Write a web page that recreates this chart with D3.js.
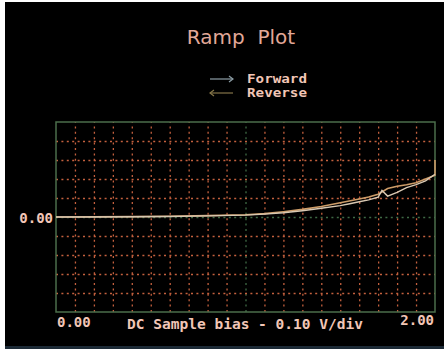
<!DOCTYPE html>
<html><head><meta charset="utf-8">
<script src="https://cdn.jsdelivr.net/npm/d3@7"></script>
<style>
html,body{margin:0;padding:0;background:#fff;}
svg{display:block;}
</style></head>
<body>
<svg id="c" width="444" height="349"></svg>
<script>
// ---- data ----
const title = "Ramp  Plot";
const xLabel = "DC Sample bias - 0.10 V/div";
const seriesNames = ["Forward", "Reverse"];
const xTickLabels = ["0.00", "2.00"];
const yTickLabels = ["0.00"];
const xDomain = [0, 2];
const yDomain = [-5, 5];       // in divisions
const gridStep = 0.1;          // V/div
const yGridStep = 1;
// Forward sweep: [bias V, signal div]
const forwardX = [0, 0.2, 0.4, 0.6, 0.8, 1.0, 1.1, 1.2, 1.3, 1.4, 1.5, 1.55, 1.6, 1.65, 1.7, 1.72, 1.75, 1.8, 1.85, 1.9, 1.95, 2.0];
const forwardY = [0, 0, 0.01, 0.03, 0.06, 0.1, 0.15, 0.22, 0.33, 0.46, 0.6, 0.7, 0.8, 0.9, 1.05, 1.4, 1.1, 1.3, 1.55, 1.7, 1.9, 2.25];
// Reverse sweep
const reverseX = [2.0, 2.0, 1.95, 1.9, 1.85, 1.8, 1.75, 1.7, 1.65, 1.6, 1.5, 1.4, 1.3, 1.2, 1.1, 1.0, 0.8, 0.6, 0.4, 0.2, 0];
const reverseY = [3.0, 2.2, 2.0, 1.8, 1.7, 1.62, 1.5, 1.2, 1.05, 0.95, 0.75, 0.55, 0.4, 0.28, 0.18, 0.12, 0.07, 0.04, 0.02, 0.01, 0];

// ---- drawing ----
const svg = d3.select("#c");
const W = 444, H = 349;
const L = 56, R = 435, T = 122, B = 312;
const textCol = "#f2c6b6";
const mono = "'DejaVu Sans Mono', 'Liberation Mono', monospace";

svg.append("rect").attr("x", 5).attr("y", 2).attr("width", W - 5).attr("height", H - 2).attr("fill", "#000");
svg.append("rect").attr("x", 5).attr("y", 346).attr("width", W - 5).attr("height", 3).attr("fill", "#1c2a36");

const x = d3.scaleLinear().domain(xDomain).range([L, R]);
const y = d3.scaleLinear().domain(yDomain).range([B, T]);

const xGridVals = d3.range(1, 20).map(i => +(i * gridStep).toFixed(2));
const yGridVals = d3.range(-4, 5).map(i => i * yGridStep);

// vertical grid
const gx = svg.append("g").attr("transform", `translate(0,${B})`)
  .call(d3.axisBottom(x).tickValues(xGridVals).tickSize(-(B - T)).tickFormat(""));
gx.select(".domain").remove();
gx.selectAll(".tick line")
  .attr("stroke", d => Math.abs(d - 1) < 1e-9 ? "#3f6a45" : "#c4603e")
  .attr("stroke-width", 1.3)
  .attr("stroke-dasharray", "2,3.4");

// horizontal grid
const gy = svg.append("g").attr("transform", `translate(${L},0)`)
  .call(d3.axisLeft(y).tickValues(yGridVals).tickSize(-(R - L)).tickFormat(""));
gy.select(".domain").remove();
gy.selectAll(".tick line")
  .attr("stroke", d => d === 0 ? "#3f6a45" : "#c4603e")
  .attr("stroke-width", 1.3)
  .attr("stroke-dasharray", "2,3.4");

// frame
svg.append("rect").attr("x", x(xDomain[0])).attr("y", y(yDomain[1]))
  .attr("width", x(xDomain[1]) - x(xDomain[0])).attr("height", y(yDomain[0]) - y(yDomain[1]))
  .attr("fill", "none").attr("stroke", "#4b6e4b").attr("stroke-width", 1.5);

// curves
const line = d3.line().x(d => x(d[0])).y(d => y(d[1]));
const fwd = forwardX.map((v, i) => [v, forwardY[i]]);
const rev = reverseX.map((v, i) => [v, reverseY[i]]);
svg.append("path").datum(rev).attr("d", line).attr("fill", "none")
  .attr("stroke", "#cc9c68").attr("stroke-width", 1.6);
svg.append("path").datum(fwd).attr("d", line).attr("fill", "none")
  .attr("stroke", "#d8c8b2").attr("stroke-width", 1.4);

// tick labels
svg.append("text").attr("x", x(xDomain[0]) + 1).attr("y", 327).attr("text-anchor", "start")
  .attr("font-family", mono).attr("font-weight", "bold").attr("font-size", 14).attr("fill", textCol)
  .text(xTickLabels[0]);
svg.append("text").attr("x", x(xDomain[1]) - 1).attr("y", 325).attr("text-anchor", "end")
  .attr("font-family", mono).attr("font-weight", "bold").attr("font-size", 14).attr("fill", textCol)
  .text(xTickLabels[1]);
svg.append("text").attr("x", L - 3).attr("y", y(0) + 5.5).attr("text-anchor", "end")
  .attr("font-family", mono).attr("font-weight", "bold").attr("font-size", 14).attr("fill", textCol)
  .text(yTickLabels[0]);

// axis title
svg.append("text").attr("x", 245).attr("y", 329).attr("text-anchor", "middle")
  .attr("font-family", mono).attr("font-weight", "bold").attr("font-size", 14).attr("fill", textCol)
  .attr("textLength", 236).attr("lengthAdjust", "spacingAndGlyphs")
  .text(xLabel);

// title
svg.append("text").attr("x", 241).attr("y", 44).attr("text-anchor", "middle")
  .attr("font-family", "'DejaVu Sans', sans-serif").attr("font-size", 20).attr("fill", "#e2a898")
  .attr("xml:space", "preserve").style("white-space", "pre")
  .text(title);

// legend
const legCols = ["#8d9ea6", "#857548"];
const legY = [79, 93];
seriesNames.forEach((n, i) => {
  const g = svg.append("g");
  const x0 = 210, x1 = 233, yy = legY[i];
  g.append("line").attr("x1", x0).attr("x2", x1).attr("y1", yy).attr("y2", yy)
    .attr("stroke", legCols[i]).attr("stroke-width", 1.2);
  const tip = i === 0 ? x1 : x0, dir = i === 0 ? -1 : 1;
  g.append("path").attr("d", `M${tip + dir * 4},${yy - 3}L${tip},${yy}L${tip + dir * 4},${yy + 3}`)
    .attr("fill", "none").attr("stroke", legCols[i]).attr("stroke-width", 1.2);
  g.append("text").attr("x", 247).attr("y", yy + 4)
    .attr("font-family", mono).attr("font-weight", "bold").attr("font-size", 12.5).attr("fill", textCol)
    .attr("textLength", 60).attr("lengthAdjust", "spacingAndGlyphs")
    .text(n);
});
</script>
</body></html>
